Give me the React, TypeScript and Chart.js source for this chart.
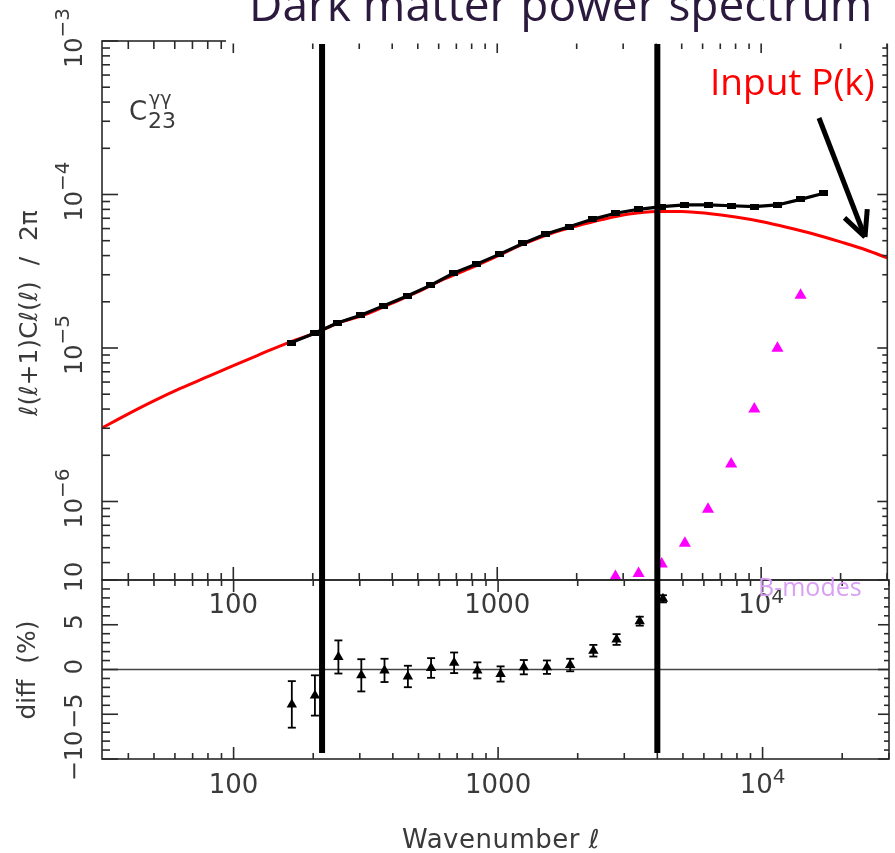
import React, { useEffect, useRef } from 'react';
import { Chart, registerables } from 'chart.js';

Chart.register(...registerables);

// ---------------- data ----------------
const xRange = [31.8, 30060];
const topYRange = [3.08e-7, 1e-3];
const diffRange = [-10, 10];

// multipole bins of the measured spectrum
const binL = [166, 203, 249, 304, 372, 456, 558, 682, 835, 1022, 1251, 1530, 1873, 2292, 2805, 3432, 4200, 5140, 6290, 7697, 9420, 11527, 14106, 17262];
const measuredCl = [1.084e-5, 1.247e-5, 1.462e-5, 1.633e-5, 1.888e-5, 2.183e-5, 2.56e-5, 3.07e-5, 3.52e-5, 4.09e-5, 4.8e-5, 5.53e-5, 6.17e-5, 6.89e-5, 7.55e-5, 8.01e-5, 8.33e-5, 8.55e-5, 8.55e-5, 8.45e-5, 8.33e-5, 8.55e-5, 9.3e-5, 1.018e-4];

// input P(k) prediction
const inputL = [31.8, 40, 50, 63, 80, 100, 126, 160, 200, 250, 316, 400, 500, 630, 800, 1000, 1260, 1580, 2000, 2500, 3160, 4000, 5000, 6300, 8000, 10000, 12600, 15800, 20000, 25000, 30060];
const inputCl = [3.01e-6, 3.72e-6, 4.52e-6, 5.45e-6, 6.5e-6, 7.68e-6, 9.08e-6, 1.077e-5, 1.234e-5, 1.455e-5, 1.652e-5, 1.963e-5, 2.316e-5, 2.815e-5, 3.34e-5, 3.97e-5, 4.76e-5, 5.53e-5, 6.23e-5, 6.87e-5, 7.46e-5, 7.75e-5, 7.75e-5, 7.52e-5, 7.13e-5, 6.67e-5, 6.1e-5, 5.53e-5, 4.91e-5, 4.35e-5, 3.86e-5];

// B-modes
const bModeL = [2805, 3432, 4200, 5140, 6290, 7697, 9420, 11527, 14106];
const bModeCl = [3.24e-7, 3.4e-7, 3.92e-7, 5.34e-7, 8.9e-7, 1.755e-6, 4.01e-6, 9.95e-6, 2.21e-5];

// relative difference (%)
const diffL = [166, 203, 249, 304, 372, 456, 558, 682, 835, 1022, 1251, 1530, 1873, 2292, 2805, 3432, 4200];
const diffPct = [-3.9, -2.9, 1.4, -0.65, -0.1, -0.78, 0.17, 0.75, -0.1, -0.5, 0.26, 0.26, 0.5, 2.1, 3.35, 5.4, 7.9];
const diffErr = [2.6, 2.25, 1.85, 1.8, 1.3, 1.2, 1.1, 1.15, 0.9, 0.85, 0.8, 0.75, 0.7, 0.65, 0.6, 0.5, 0.4];

// vertical markers (multipole cuts)
const cutL = [216, 4000];

// tick labels
const topYExps = ['−3', '−4', '−5', '−6'];
const topYVals = [1e-3, 1e-4, 1e-5, 1e-6];
const diffTickVals = [-10, -5, 0, 5, 10];
const diffTickLabels = ['−10', '−5', '0', '5', '10'];
const xLabelVals = [100, 1000, 10000];
const xLabelBase = ['100', '1000', '10'];
const xLabelSup = ['', '', '4'];

// ---------------- helpers ----------------
const AXIS = '#2a2a2a';
const TXT = '#3a3a3a';
const SANS = '"DejaVu Sans", sans-serif';
const SLIDE = '"Open Sans", "Noto Sans", sans-serif';

function logTickValues(min: number, max: number) {
  const out: { v: number; major: boolean }[] = [];
  for (let e = Math.floor(Math.log10(min)); e <= Math.ceil(Math.log10(max)); e++) {
    for (let m = 1; m <= 9; m++) {
      const v = m * Math.pow(10, e);
      if (v >= min * 0.9999 && v <= max * 1.0001) out.push({ v, major: m === 1 });
    }
  }
  return out;
}

function seg(ctx: CanvasRenderingContext2D, x1: number, y1: number, x2: number, y2: number) {
  ctx.beginPath();
  ctx.moveTo(x1, y1);
  ctx.lineTo(x2, y2);
  ctx.stroke();
}

function supText(ctx: CanvasRenderingContext2D, x: number, y: number, base: string, sup: string, size: number, supSize: number, raise: number) {
  ctx.font = `${size}px ${SANS}`;
  const wb = ctx.measureText(base).width;
  ctx.font = `${supSize}px ${SANS}`;
  const ws = sup ? ctx.measureText(sup).width : 0;
  const start = x - (wb + ws) / 2;
  ctx.textAlign = 'left';
  ctx.textBaseline = 'alphabetic';
  ctx.font = `${size}px ${SANS}`;
  ctx.fillText(base, start, y);
  if (sup) {
    ctx.font = `${supSize}px ${SANS}`;
    ctx.fillText(sup, start + wb, y - raise);
  }
}

function rotSupText(ctx: CanvasRenderingContext2D, bx: number, cy: number, base: string, sup: string, size: number, supSize: number, raise: number) {
  ctx.save();
  ctx.translate(bx, cy);
  ctx.rotate(-Math.PI / 2);
  supText(ctx, 0, 0, base, sup, size, supSize, raise);
  ctx.restore();
}

function rotText(ctx: CanvasRenderingContext2D, bx: number, cy: number, text: string, font: string) {
  ctx.save();
  ctx.translate(bx, cy);
  ctx.rotate(-Math.PI / 2);
  ctx.font = font;
  ctx.textAlign = 'center';
  ctx.textBaseline = 'alphabetic';
  ctx.fillText(text, 0, 0);
  ctx.restore();
}

function dashMarker(): HTMLCanvasElement {
  const c = document.createElement('canvas');
  c.width = 9;
  c.height = 6;
  const g = c.getContext('2d') as CanvasRenderingContext2D;
  g.fillStyle = '#000';
  g.fillRect(0, 0, 9, 6);
  return c;
}

// ---------------- plugins ----------------
const topPanelPlugin = {
  id: 'topPanel',
  afterDatasetsDraw(chart: any) {
    const { ctx, chartArea: a } = chart;
    const x = chart.scales.x;
    const y = chart.scales.y;
    ctx.save();
    ctx.strokeStyle = AXIS;
    ctx.lineWidth = 1.6;
    ctx.strokeRect(a.left, a.top, a.right - a.left, a.bottom - a.top);
    for (const t of logTickValues(xRange[0], xRange[1])) {
      const px = x.getPixelForValue(t.v);
      seg(ctx, px, a.top, px, a.top + (t.major ? 12 : 8));
      seg(ctx, px, a.bottom, px, a.bottom - (t.major ? 13 : 7));
    }
    for (const t of logTickValues(topYRange[0], topYRange[1])) {
      const py = y.getPixelForValue(t.v);
      seg(ctx, a.left, py, a.left + (t.major ? 16 : 8), py);
      seg(ctx, a.right, py, a.right - (t.major ? 10 : 5), py);
    }
    ctx.fillStyle = TXT;
    topYVals.forEach((v, i) => {
      rotSupText(ctx, 82, y.getPixelForValue(v) - 3, '10', topYExps[i], 24, 20, 13);
    });
    xLabelVals.forEach((v, i) => {
      supText(ctx, x.getPixelForValue(v), 613, xLabelBase[i], xLabelSup[i], 26, 20, 10);
    });
    rotText(ctx, 37, 313, 'ℓ(ℓ+1)Cℓ(ℓ)  /  2π', `25px ${SANS}`);
    ctx.textAlign = 'left';
    ctx.textBaseline = 'alphabetic';
    ctx.font = `26px ${SANS}`;
    ctx.fillText('C', 129, 120);
    ctx.font = `19px ${SANS}`;
    ctx.fillText('γγ', 149, 105);
    ctx.font = `22px ${SANS}`;
    ctx.fillText('23', 148, 128);
    ctx.restore();
  },
  afterDraw(chart: any) {
    const { ctx } = chart;
    ctx.save();
    ctx.fillStyle = '#ffffff';
    ctx.fillRect(226, 0, 895 - 226, 43.5);
    ctx.fillStyle = '#2c1a3e';
    ctx.font = `46px ${SLIDE}`;
    ctx.textAlign = 'left';
    ctx.textBaseline = 'alphabetic';
    ctx.fillText('Dark matter power spectrum', 249, 21);
    ctx.fillStyle = '#ff0000';
    ctx.font = `37px ${SLIDE}`;
    ctx.fillText('Input P(k)', 710, 95);
    ctx.strokeStyle = '#000';
    ctx.lineWidth = 5;
    ctx.lineCap = 'butt';
    const x1 = 819, y1 = 118, x2 = 865, y2 = 237;
    seg(ctx, x1, y1, x2, y2);
    const ang = Math.atan2(y1 - y2, x1 - x2);
    const L = 28, spread = 0.45;
    seg(ctx, x2, y2, x2 + L * Math.cos(ang + spread), y2 + L * Math.sin(ang + spread));
    seg(ctx, x2, y2, x2 + L * Math.cos(ang - spread), y2 + L * Math.sin(ang - spread));
    ctx.restore();
  },
};

const bottomPanelPlugin = {
  id: 'bottomPanel',
  beforeDatasetsDraw(chart: any) {
    const { ctx, chartArea: a } = chart;
    const x = chart.scales.x;
    const y = chart.scales.y;
    ctx.save();
    ctx.strokeStyle = '#444';
    ctx.lineWidth = 1.6;
    const y0 = y.getPixelForValue(0);
    seg(ctx, a.left, y0, a.right, y0);
    ctx.strokeStyle = '#000';
    ctx.lineWidth = 1.8;
    diffL.forEach((l, i) => {
      const px = x.getPixelForValue(l);
      const t = y.getPixelForValue(diffPct[i] + diffErr[i]);
      const b = y.getPixelForValue(diffPct[i] - diffErr[i]);
      seg(ctx, px, t, px, b);
      seg(ctx, px - 4, t, px + 4, t);
      seg(ctx, px - 4, b, px + 4, b);
    });
    ctx.restore();
  },
  afterDatasetsDraw(chart: any) {
    const { ctx, chartArea: a } = chart;
    const x = chart.scales.x;
    const y = chart.scales.y;
    ctx.save();
    ctx.strokeStyle = AXIS;
    ctx.lineWidth = 1.6;
    ctx.strokeRect(a.left, a.top, a.right - a.left, a.bottom - a.top);
    for (const t of logTickValues(xRange[0], xRange[1])) {
      const px = x.getPixelForValue(t.v);
      seg(ctx, px, a.top, px, a.top + (t.major ? 12 : 6));
      seg(ctx, px, a.bottom, px, a.bottom - (t.major ? 12 : 6));
    }
    for (let v = diffRange[0]; v <= diffRange[1]; v++) {
      const py = y.getPixelForValue(v);
      const major = v % 5 === 0;
      seg(ctx, a.left, py, a.left + (major ? 16 : 8), py);
      seg(ctx, a.right, py, a.right - (major ? 11 : 5), py);
    }
    ctx.fillStyle = TXT;
    diffTickVals.forEach((v, i) => {
      rotText(ctx, 82, y.getPixelForValue(v) - 3, diffTickLabels[i], `24px ${SANS}`);
    });
    xLabelVals.forEach((v, i) => {
      supText(ctx, x.getPixelForValue(v), 793, xLabelBase[i], xLabelSup[i], 26, 20, 10);
    });
    rotText(ctx, 35, 670, 'diff  (%)', `25px ${SANS}`);
    ctx.font = `26px ${SANS}`;
    ctx.textAlign = 'center';
    (ctx as any).letterSpacing = '0.5px';
    ctx.fillText('Wavenumber ℓ', 501, 848);
    (ctx as any).letterSpacing = '0px';
    ctx.fillStyle = '#000';
    cutL.forEach((l) => {
      const px = x.getPixelForValue(l);
      ctx.fillRect(px - 3, 44, 6, a.bottom - 6 - 44);
    });
    ctx.fillStyle = '#d99ff3';
    ctx.font = `25px ${SLIDE}`;
    ctx.textAlign = 'left';
    ctx.fillText('B-modes', 758, 596);
    ctx.restore();
  },
};

export default function App() {
  const topRef = useRef<HTMLCanvasElement | null>(null);
  const botRef = useRef<HTMLCanvasElement | null>(null);

  useEffect(() => {
    const common = {
      responsive: false,
      animation: false as const,
      events: [] as any[],
      plugins: { legend: { display: false }, tooltip: { enabled: false }, title: { display: false } },
    };
    const marker = dashMarker();
    const top = new Chart(topRef.current as HTMLCanvasElement, {
      type: 'scatter',
      data: {
        datasets: [
          {
            label: 'measured',
            data: binL.map((l, i) => ({ x: l, y: measuredCl[i] })),
            showLine: true,
            borderColor: '#000',
            backgroundColor: '#000',
            borderWidth: 3.2,
            pointStyle: marker,
            pointRadius: 4.5,
            order: 0,
          },
          {
            label: 'input',
            data: inputL.map((l, i) => ({ x: l, y: inputCl[i] })),
            showLine: true,
            borderColor: '#ff0000',
            borderWidth: 3,
            pointRadius: 0,
            cubicInterpolationMode: 'monotone',
            order: 1,
          },
          {
            label: 'B-modes',
            data: bModeL.map((l, i) => ({ x: l, y: bModeCl[i] })),
            showLine: false,
            backgroundColor: '#ff00ff',
            pointStyle: 'triangle',
            pointRadius: 7,
            pointBorderWidth: 0,
            borderWidth: 0,
            clip: false,
            order: 2,
          },
        ] as any,
      },
      options: {
        ...common,
        layout: { padding: { left: 102, top: 41, right: 3, bottom: 273 } },
        scales: {
          x: { type: 'logarithmic', min: xRange[0], max: xRange[1], display: false, bounds: 'data' },
          y: { type: 'logarithmic', min: topYRange[0], max: topYRange[1], display: false, bounds: 'data' },
        },
      } as any,
      plugins: [topPanelPlugin],
    });
    const bottom = new Chart(botRef.current as HTMLCanvasElement, {
      type: 'scatter',
      data: {
        datasets: [
          {
            label: 'diff',
            data: diffL.map((l, i) => ({ x: l, y: diffPct[i] })),
            showLine: false,
            backgroundColor: '#000',
            pointStyle: 'triangle',
            pointRadius: 6,
            pointBorderWidth: 0,
            clip: false,
          },
        ] as any,
      },
      options: {
        ...common,
        layout: { padding: { left: 102, top: 580, right: 3, bottom: 94 } },
        scales: {
          x: { type: 'logarithmic', min: xRange[0], max: xRange[1], display: false, bounds: 'data' },
          y: { type: 'linear', min: diffRange[0], max: diffRange[1], display: false },
        },
      } as any,
      plugins: [bottomPanelPlugin],
    });
    return () => {
      top.destroy();
      bottom.destroy();
    };
  }, []);

  const cstyle: React.CSSProperties = { position: 'absolute', left: 0, top: 0, width: 895, height: 853 };
  return (
    <div style={{ position: 'fixed', left: 0, top: 0, width: 895, height: 853, background: '#fff' }}>
      <canvas ref={topRef} width={895} height={853} style={cstyle} />
      <canvas ref={botRef} width={895} height={853} style={cstyle} />
    </div>
  );
}
